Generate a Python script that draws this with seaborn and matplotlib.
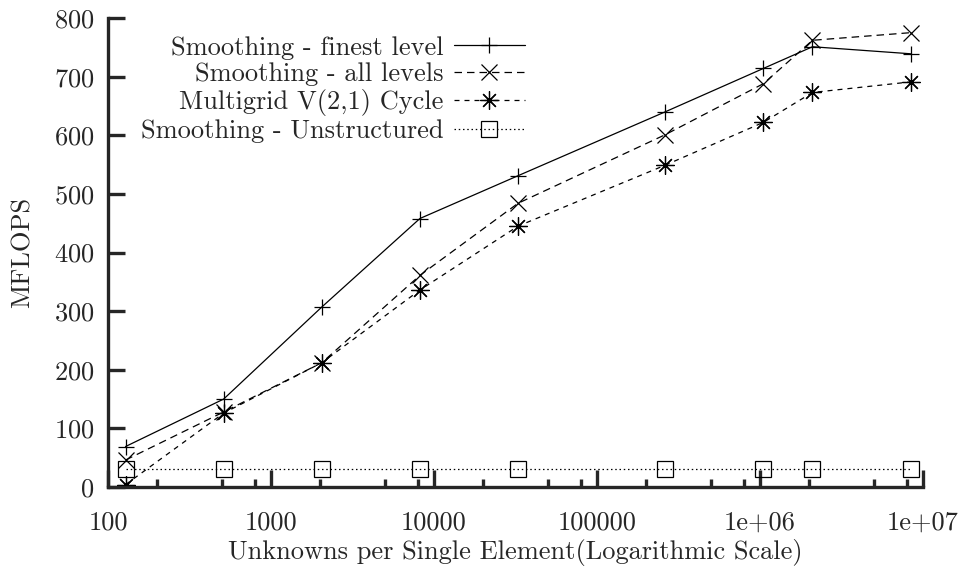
import numpy as np
import pandas as pd
import matplotlib
matplotlib.use('Agg')
import matplotlib.pyplot as plt
from matplotlib.ticker import FixedLocator, FixedFormatter, LogLocator, NullFormatter
import seaborn as sns

# data
unknowns = [128, 512, 2048, 8192, 32768, 262144, 1048576, 2097152, 8388608]
smooth_finest = [69, 150, 307, 458, 531, 640, 714, 751, 739]
smooth_all = [46, 128, 212, 361, 484, 601, 688, 762, 775]
multigrid = [4, 126, 212, 336, 445, 549, 622, 673, 691]
smooth_unstruct = [30, 30, 30, 30, 30, 30, 30, 30, 30]

series_names = ['Smoothing - finest level', 'Smoothing - all levels',
                'Multigrid V(2,1) Cycle', 'Smoothing - Unstructured']

x_ticks = [100, 1000, 10000, 100000, 1000000, 10000000]
x_tick_labels = ['100', '1000', '10000', '100000', '1e+06', '1e+07']
y_ticks = [0, 100, 200, 300, 400, 500, 600, 700, 800]

df = pd.DataFrame({'Unknowns': unknowns * 4,
                   'MFLOPS': smooth_finest + smooth_all + multigrid + smooth_unstruct,
                   'Series': [n for n in series_names for _ in unknowns]})

sns.set_style('ticks')
plt.rcParams['font.family'] = ['cmr10', 'DejaVu Serif']
plt.rcParams['mathtext.fontset'] = 'cm'
plt.rcParams['axes.formatter.use_mathtext'] = True
plt.rcParams['font.size'] = 19

fig = plt.figure(figsize=(9.62, 5.72), dpi=100)
ax = fig.add_axes([0.1123, 0.1486, 0.8472, 0.8199])

#marker / line style per series
styles = {
    series_names[0]: dict(marker='+', linestyle='-', markersize=12),
    series_names[1]: dict(marker='x', linestyle=(0, (6, 4)), markersize=11),
    series_names[2]: dict(marker=(8, 2, 0), linestyle=(0, (4, 4)), markersize=13),
    series_names[3]: dict(marker='s', linestyle=(0, (1.2, 2.2)), markersize=11,
                          markerfacecolor='none'),
}

for name in series_names:
    sub = df[df.Series == name]
    sns.lineplot(data=sub, x='Unknowns', y='MFLOPS', ax=ax, color='black',
                 linewidth=0.9, markeredgecolor='black', markeredgewidth=0.9,
                 label=name, **styles[name])

ax.set_xscale('log')
ax.set(xlim=(100, 10000000), ylim=(0, 800))
ax.xaxis.set_major_locator(FixedLocator(x_ticks))
ax.xaxis.set_major_formatter(FixedFormatter(x_tick_labels))
ax.xaxis.set_minor_locator(LogLocator(base=10, subs=(2, 5, 8)))
ax.xaxis.set_minor_formatter(NullFormatter())
ax.yaxis.set_major_locator(FixedLocator(y_ticks))

ax.tick_params(which='major', direction='in', length=12, width=2.4, pad=10)
ax.tick_params(axis='x', which='minor', direction='in', length=6, width=2.4)
ax.tick_params(axis='x', which='major', pad=17)

for side in ['top', 'right']:
    ax.spines[side].set_visible(False)
for side in ['left', 'bottom']:
    ax.spines[side].set_linewidth(2.4)

ax.set_xlabel('Unknowns per Single Element(Logarithmic Scale)', labelpad=3)
ax.set_ylabel('MFLOPS', labelpad=14)

ax.legend(loc='upper right', bbox_to_anchor=(0.5117, 0.962), frameon=False,
          markerfirst=False, handlelength=2.7, handletextpad=0.38,
          labelspacing=0.115, borderpad=0, borderaxespad=0)

plt.savefig('out.png', dpi=100)
